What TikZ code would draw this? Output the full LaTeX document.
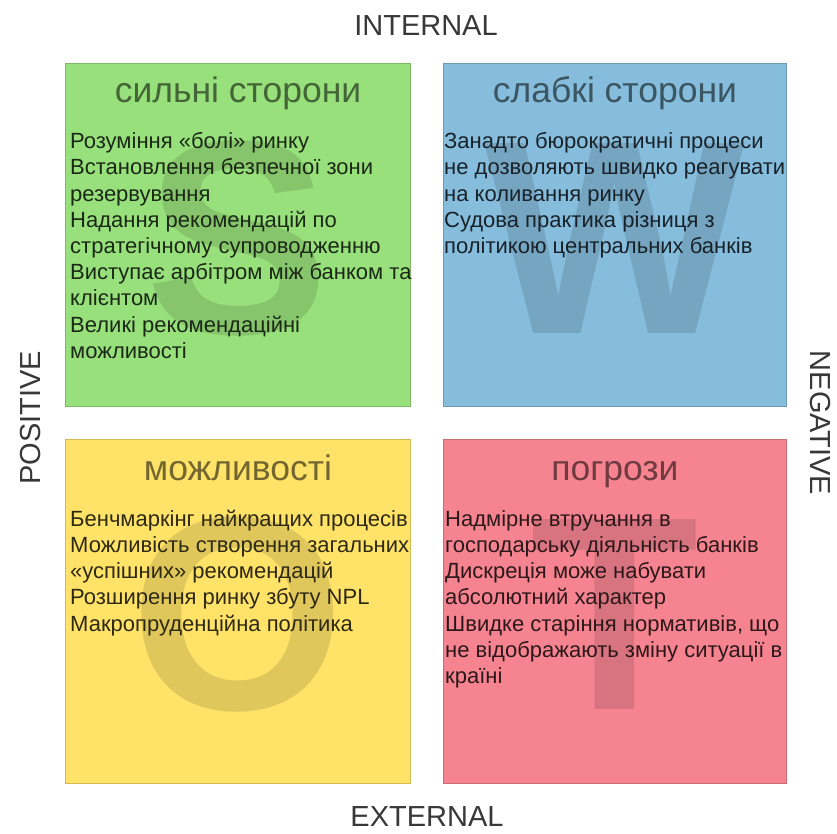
\documentclass[tikz,border=0pt]{standalone}
\usepackage{fontspec}
\setmainfont{Liberation Sans}
\definecolor{sgreen}{HTML}{98E07B}
\definecolor{wblue}{HTML}{86BCDC}
\definecolor{oyellow}{HTML}{FFE268}
\definecolor{tpink}{HTML}{F68490}
\newcommand{\axisfont}{\fontsize{29}{33}\selectfont}
\newcommand{\headfont}{\fontsize{35.5}{40}\selectfont}
\newcommand{\itemfont}{\fontsize{22}{26.2}\selectfont}
\newcommand{\letterfont}{\fontsize{276}{276}\selectfont\bfseries}
% fixed first-line height so every list starts at the same baseline
\newcommand{\firstline}{\rule{0pt}{18pt}}
\begin{document}
\begin{tikzpicture}[x=1pt,y=-1pt,
  quad/.style={draw=#1!82!black, line width=0.8pt, fill=#1},
  bigletter/.style={text=#1!88!black, font=\letterfont, inner sep=0pt, anchor=base},
  head/.style={text=#1!45!black, font=\headfont, inner sep=0pt, anchor=base},
  items/.style={text=#1!18!black, font=\itemfont, inner sep=0pt, align=left, anchor=north west},
  axis/.style={text=black!78, font=\axisfont, inner sep=0pt}]
\useasboundingbox (0,0) rectangle (837,834);
\fill[white] (0,0) rectangle (837,834);

% quadrants
\path[quad=sgreen]  (65,63)  rectangle (410,406);
\path[quad=wblue]   (443,63) rectangle (786,406);
\path[quad=oyellow] (65,439) rectangle (410,783);
\path[quad=tpink]   (443,439) rectangle (786,783);

% large background letters
\node[bigletter=sgreen]  (S) at (238,333) {S};
\node[bigletter=wblue]   (W) at (615,333) {W};
\node[bigletter=oyellow] (O) at (238,709) {O};
\node[bigletter=tpink]   (T) at (615,709) {T};

% headings
\node[head=sgreen]  (hS) at (238,103) {сильні сторони};
\node[head=wblue]   (hW) at (615,103) {слабкі сторони};
\node[head=oyellow] (hO) at (238,480) {можливості};
\node[head=tpink]   (hT) at (615,480) {погрози};

% item lists
\node[items=sgreen] (lS) at (70,130.5) {\firstline Розуміння «болі» ринку\\
Встановлення безпечної зони\\
резервування\\
Надання рекомендацій по\\
стратегічному супроводженню\\
Виступає арбітром між банком та\\
клієнтом\\
Великі рекомендаційні\\
можливості};
\node[items=wblue] (lW) at (444,130.5) {\firstline Занадто бюрократичні процеси\\
не дозволяють швидко реагувати\\
на коливання ринку\\
Судова практика різниця з\\
політикою центральних банків};
\node[items=oyellow] (lO) at (70,508) {\firstline Бенчмаркінг найкращих процесів\\
Можливість створення загальних\\
«успішних» рекомендацій\\
Розширення ринку збуту NPL\\
Макропруденційна політика};
\node[items=tpink] (lT) at (445,508) {\firstline Надмірне втручання в\\
господарську діяльність банків\\
Дискреція може набувати\\
абсолютний характер\\
Швидке старіння нормативів, що\\
не відображають зміну ситуації в\\
країні};

% axis labels
\node[axis] (internal) at (426,26) {INTERNAL};
\node[axis] (external) at (427,817) {EXTERNAL};
\node[axis, rotate=90]  (positive) at (31,418) {POSITIVE};
\node[axis, rotate=-90] (negative) at (820,423) {NEGATIVE};
\end{tikzpicture}
\end{document}
